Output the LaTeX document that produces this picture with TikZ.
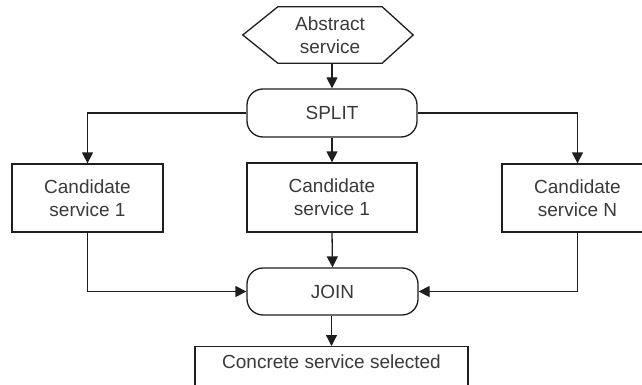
\documentclass[tikz,border=0pt]{standalone}
\usepackage{fontspec}
\setmainfont{Liberation Sans}
\usetikzlibrary{arrows.meta}
\definecolor{txt}{HTML}{3A3A3A}
\definecolor{ln}{HTML}{1E1E1E}
\begin{document}
\begin{tikzpicture}[x=1pt,y=-1pt,
  every node/.style={font=\fontsize{19}{23}\selectfont, text=txt, align=center, inner sep=0pt},
  boxnode/.style={draw=ln, line width=1.3pt, rectangle, minimum width=151pt, minimum height=68pt},
  capsule/.style={draw=ln, line width=1.3pt, rectangle, rounded corners=16pt, minimum width=170pt, minimum height=48pt},
  conn/.style={draw=ln, line width=1.3pt},
  arr/.style={conn, -{Triangle[length=11pt,width=11pt]}}]
\useasboundingbox[fill=white] (0,0) rectangle (642,385);
% hexagon
\node (hex) [minimum width=104pt, minimum height=56pt] at (330,35) {Abstract\\service};
\draw[conn, line join=miter] (hex.north west) -- (hex.north east) -- ([xshift=31pt]hex.east) -- (hex.south east) -- (hex.south west) -- ([xshift=-35pt]hex.west) -- cycle;
\node (split) [capsule] at (332,113) {SPLIT};
\node (box1) [boxnode] at (87.5,198) {Candidate\\service 1};
\node (box2) [boxnode, minimum width=170pt, minimum height=69pt] at (332,197.5) {Candidate\\service 1};
\node (box3) [boxnode] at (577.5,198) {Candidate\\service N};
\node (join) [capsule, minimum width=171pt, minimum height=47pt] at (332.5,291.5) {JOIN};
\node (concrete) [draw=ln, line width=1.3pt, rectangle, anchor=north, minimum width=273pt, text height=21.5pt, text depth=21pt] at (331.5,346) {Concrete service selected};
% connectors
\draw[arr] (hex.south -| split.north) -- (split.north);
\draw[arr] (split.west) -| (box1.north);
\draw[arr] (split.east) -| (box3.north);
\draw[arr] (split.south) -- (box2.north);
\draw[arr] (box1.south) |- (join.west);
\draw[arr] (box3.south) |- (join.east);
\draw[arr] (box2.south) -- (join.north);
\draw[arr] (join.south -| concrete.north) -- (concrete.north);
\end{tikzpicture}
\end{document}
